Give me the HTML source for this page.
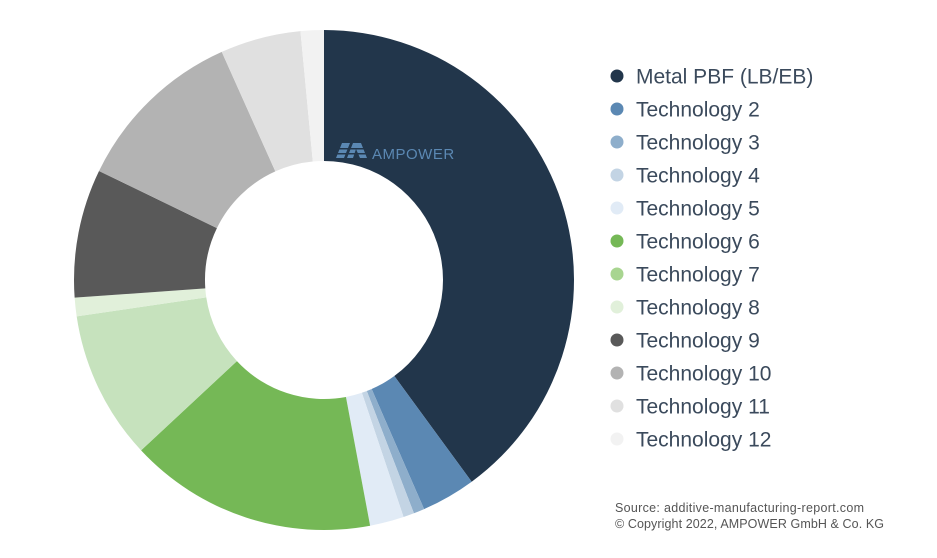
<!DOCTYPE html>
<html><head><meta charset="utf-8"><style>
body{margin:0;width:937px;height:558px;background:#fff;overflow:hidden;font-family:"Liberation Sans",sans-serif}
svg{position:absolute;left:0;top:0}
</style></head><body>
<svg id="chart" width="937" height="558">
<g id="slices"></g>
<g>
<path d="M336,158 L342,143 L350,143 L344,158 Z M347,158 L353,143 L361,143 L367,158 L360,158 L356,149 L353,158 Z" fill="#5b88b3"/>
<rect x="336" y="148" width="31" height="1.5" fill="#22364b"/><rect x="336" y="153" width="31" height="1.5" fill="#22364b"/>
<text x="372" y="159" font-size="15" fill="#5b88b3" letter-spacing="0.5">AMPOWER</text>
</g>
<g id="legend"></g>
<text x="615" y="512" font-size="12.5" textLength="249" lengthAdjust="spacing" fill="#555">Source: additive-manufacturing-report.com</text>
<text x="615" y="528" font-size="12.5" textLength="269" lengthAdjust="spacing" fill="#555">© Copyright 2022, AMPOWER GmbH &amp; Co. KG</text>
</svg>
<script>
const categories=["Metal PBF (LB/EB)","Technology 2","Technology 3","Technology 4","Technology 5","Technology 6","Technology 7","Technology 8","Technology 9","Technology 10","Technology 11","Technology 12"];
const values=[39.9,3.5,0.7,0.7,2.2,16.0,9.6,1.2,8.3,11.1,5.2,1.5];
const colors=["#22364b","#5b88b3","#8eaecb","#c3d4e4","#e1ebf6","#75b856","#c6e2bd","#e1f0da","#595959","#b3b3b3","#e0e0e0","#f2f2f2"];
const legendColors=["#22364b","#5b88b3","#8eaecb","#c3d4e4","#e1ebf6","#75b856","#a8d590","#e1f0da","#595959","#b3b3b3","#e0e0e0","#f2f2f2"];
const NS="http://www.w3.org/2000/svg";
const cx=324,cy=280,R=250,r=119;
const total=values.reduce((a,b)=>a+b,0);
function pt(a,rad){return [cx+rad*Math.sin(a),cy-rad*Math.cos(a)];}
let acc=0;const g=document.getElementById('slices');
values.forEach((v,i)=>{
 const a0=acc/total*2*Math.PI;acc+=v;const a1=acc/total*2*Math.PI;
 const lg=(a1-a0)>Math.PI?1:0;
 const [x0,y0]=pt(a0,R),[x1,y1]=pt(a1,R),[x2,y2]=pt(a1,r),[x3,y3]=pt(a0,r);
 const p=document.createElementNS(NS,'path');
 p.setAttribute('d',`M${x0},${y0}A${R},${R} 0 ${lg} 1 ${x1},${y1}L${x2},${y2}A${r},${r} 0 ${lg} 0 ${x3},${y3}Z`);
 p.setAttribute('fill',colors[i]);
 
 
 g.appendChild(p);
});
const lgd=document.getElementById('legend');
categories.forEach((c,i)=>{
 const y=76+i*33;
 const e=document.createElementNS(NS,'g');
 
 
 const d=document.createElementNS(NS,'circle');
 d.setAttribute('cx',617);d.setAttribute('cy',y);d.setAttribute('r',6.5);d.setAttribute('fill',legendColors[i]);
 const t=document.createElementNS(NS,'text');
 t.setAttribute('x',636);t.setAttribute('y',y+7.5);t.setAttribute('font-size','21');t.setAttribute('fill','#3b4a5c');
 t.textContent=c;
 e.appendChild(d);e.appendChild(t);lgd.appendChild(e);
});
</script>
</body></html>
